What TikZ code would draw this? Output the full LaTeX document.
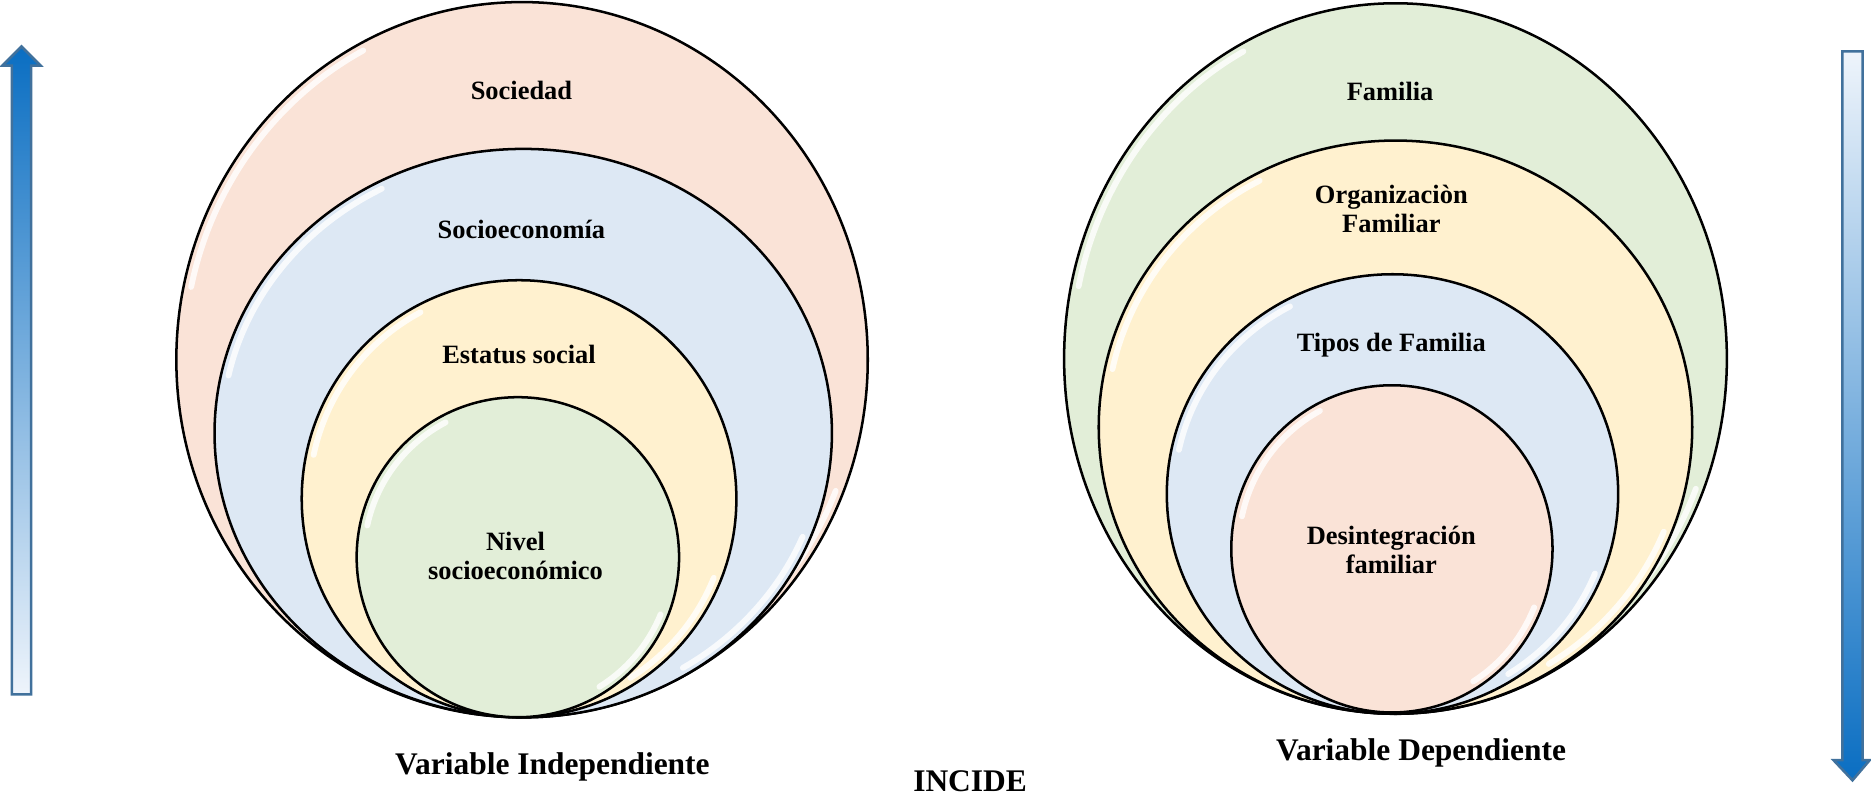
\documentclass[tikz,border=0pt]{standalone}
\usepackage{fontspec}
\setmainfont{Liberation Serif}
\usetikzlibrary{shapes.geometric}
\definecolor{peach}{HTML}{FAE3D7}
\definecolor{skyblue}{HTML}{DDE8F4}
\definecolor{cream}{HTML}{FFF1CF}
\definecolor{mint}{HTML}{E2EED8}
\definecolor{arrowblue}{HTML}{0A6EC2}
\definecolor{arrowpale}{HTML}{EEF4FB}
\definecolor{arrowline}{HTML}{41719C}

\begin{document}
\begin{tikzpicture}[x=0.01cm,y=0.01cm,
    ring/.style={ellipse,draw=black,line width=0.6pt,inner sep=0pt},
    gloss/.style={white,line width=1.4pt,opacity=0.8,line cap=round},
    lbl/.style={font=\fontsize{6.3}{6.8}\selectfont\bfseries,align=center},
    var/.style={font=\fontsize{7.5}{9}\selectfont\bfseries}]
  \useasboundingbox (0,0) rectangle (1568,668);

  % nested circles, outer ones first
  \foreach \nm/\cx/\cy/\rx/\ry/\col in {
      soc/437.5/366.5/289.5/299.5/peach,
      eco/438.5/305/258.5/238/skyblue,
      est/435/250/182/183/cream,
      niv/434/201/135/134/mint,
      fam/1169.5/367.5/277.5/297.5/mint,
      org/1169.5/310/248.5/240/cream,
      tip/1167/254/189/184/skyblue,
      des/1166.5/208/134.5/137/peach}{
    \node[ring,fill=\col,minimum width={0.02cm*\rx},minimum height={0.02cm*\ry}] (\nm) at (\cx,\cy) {};
    \draw[gloss] (\nm.center) ++(168:{0.01cm*(\rx-6)} and {0.01cm*(\ry-6)})
      arc[start angle=168,end angle=118,x radius={0.01cm*(\rx-6)},y radius={0.01cm*(\ry-6)}];
    \draw[gloss] (\nm.center) ++(-22:{0.01cm*(\rx-6)} and {0.01cm*(\ry-6)})
      arc[start angle=-22,end angle=-58,x radius={0.01cm*(\rx-6)},y radius={0.01cm*(\ry-6)}];
  }

  % labels
  \node[lbl] (tsoc) at (437,592) {Sociedad};
  \node[lbl] (teco) at (437,476) {Socioeconomía};
  \node[lbl] (test) at (435,371) {Estatus social};
  \node[lbl] (tniv) at (432,202) {Nivel\\socioeconómico};
  \node[lbl] (tfam) at (1165,591) {Familia};
  \node[lbl] (torg) at (1166,493) {Organizaciòn\\Familiar};
  \node[lbl] (ttip) at (1166,379) {Tipos de Familia};
  \node[lbl] (tdes) at (1166,207) {Desintegración\\familiar};

  \node[var] (indep) at (463,25) {Variable Independiente};
  \node[var] (incide) at (813,13) {INCIDE};
  \node[var] (dep) at (1191,37) {Variable Dependiente};

  % side arrows
  \shade[top color=arrowblue,bottom color=arrowpale,draw=arrowline,line width=0.6pt]
    (10,86) -- (10,613) -- (2,613) -- (18,629) -- (34,613) -- (26,613) -- (26,86) -- cycle;
  \shade[top color=arrowpale,bottom color=arrowblue,draw=arrowline,line width=0.6pt]
    (1544,625) -- (1544,31) -- (1536.5,31) -- (1552.5,14) -- (1567,31) -- (1561,31) -- (1561,625) -- cycle;
\end{tikzpicture}
\end{document}
